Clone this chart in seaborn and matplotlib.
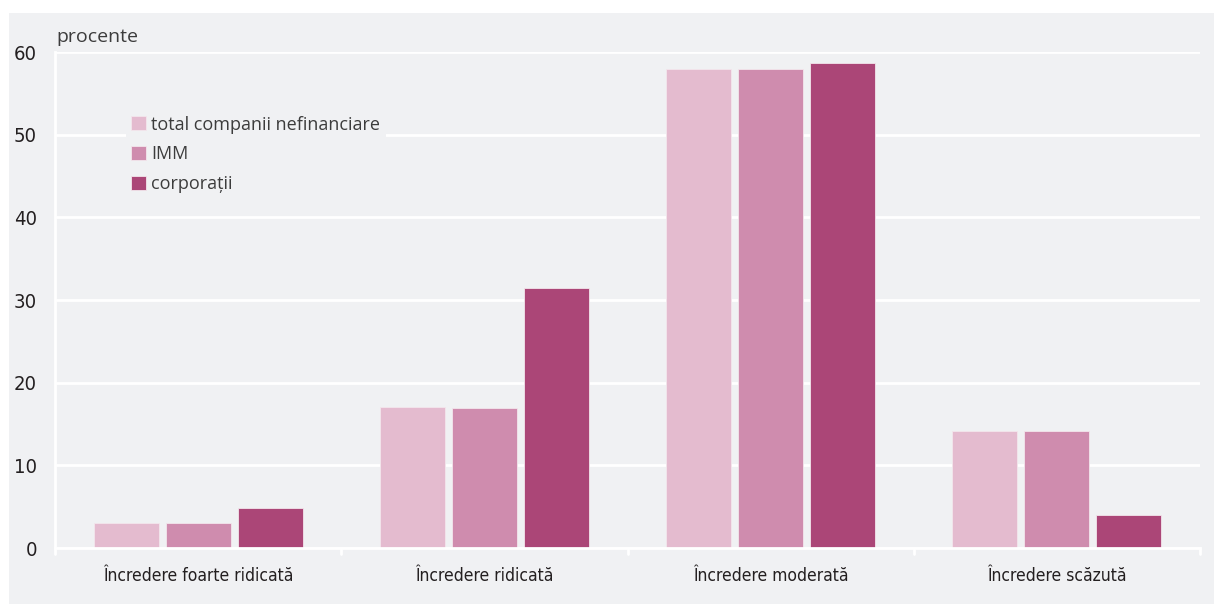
import numpy as np
import pandas as pd
import matplotlib
matplotlib.use("Agg")
import matplotlib.pyplot as plt
import seaborn as sns

categories = ["Încredere foarte ridicată", "Încredere ridicată",
              "Încredere moderată", "Încredere scăzută"]
series = ["total companii nefinanciare", "IMM", "corporații"]
total_vals = [3.0, 17.0, 58.0, 14.1]
imm_vals = [3.0, 16.9, 57.9, 14.1]
corp_vals = [4.8, 31.4, 58.7, 4.0]
colors = ["#e4bbcf", "#cf8cae", "#ab4677"]

df = pd.DataFrame({
    "cat": categories * 3,
    "serie": [s for s in series for _ in categories],
    "val": total_vals + imm_vals + corp_vals,
})

sns.set_style("white")
plt.rcParams['font.family'] = ['DejaVu Sans']
plt.rcParams['font.stretch'] = 'condensed'
bg = "#f0f1f3"

fig = plt.figure(figsize=(12.14, 6.04), dpi=100)
fig.patch.set_facecolor("white")
fig.patches.append(plt.Rectangle((9 / 1214, 0), 1 - 9 / 1214, 1 - 13 / 604,
                                 transform=fig.transFigure, facecolor=bg,
                                 edgecolor="none", zorder=-10))
ax = fig.add_axes([55 / 1214, 1 - 548 / 604, (1200 - 55) / 1214, (548 - 52) / 604])
ax.set_facecolor(bg)

sns.barplot(data=df, x="cat", y="val", hue="serie", palette=colors,
            saturation=1, width=0.755, gap=0.1, ax=ax, edgecolor="#f3e6ec",
            linewidth=0.6, zorder=3)

ax.set_ylim(0, 60)
ax.set_xlim(-0.5, 3.5)
ax.set_yticks(range(0, 61, 10))
ax.yaxis.grid(True, color="white", linewidth=2)
ax.set_axisbelow(True)
ax.set_xlabel("")
ax.set_ylabel("")
for s in ["top", "right"]:
    ax.spines[s].set_visible(False)
for s in ["left", "bottom"]:
    ax.spines[s].set_color("white")
    ax.spines[s].set_linewidth(2)
    ax.spines[s].set_zorder(4)

ax.tick_params(axis="y", length=5, width=2, color="white", labelsize=14.5,
               labelcolor="#231f20", pad=8)
ax.set_xticks([0, 1, 2, 3])
ax.set_xticklabels(categories, fontsize=12.5, color="#231f20")
ax.tick_params(axis="x", length=0, pad=14)
for xb in [-0.5, 0.5, 1.5, 2.5, 3.5]:
    ax.plot([xb, xb], [0, -0.012], transform=ax.get_xaxis_transform(),
            color="white", linewidth=2, clip_on=False, zorder=4)

ax.text(0.001, 1.012, "procente", transform=ax.transAxes, fontsize=14,
        color="#3c3c3c", ha="left", va="bottom", fontstretch="normal",
        family=['Open Sans', 'DejaVu Sans'])

leg = ax.legend(loc="upper left", bbox_to_anchor=(0.054, 0.901), frameon=True,
                fontsize=13, handlelength=0.8, handleheight=0.8,
                handletextpad=0.3, labelspacing=0.65, borderpad=0.3)
leg.get_frame().set_facecolor(bg)
leg.get_frame().set_edgecolor("none")
leg.get_frame().set_alpha(1)
for t in leg.get_texts():
    t.set_family(['Open Sans', 'DejaVu Sans'])
    t.set_fontstretch("normal")
    t.set_color("#3c3c3c")

fig.savefig("out.png", dpi=100, facecolor=fig.get_facecolor())
